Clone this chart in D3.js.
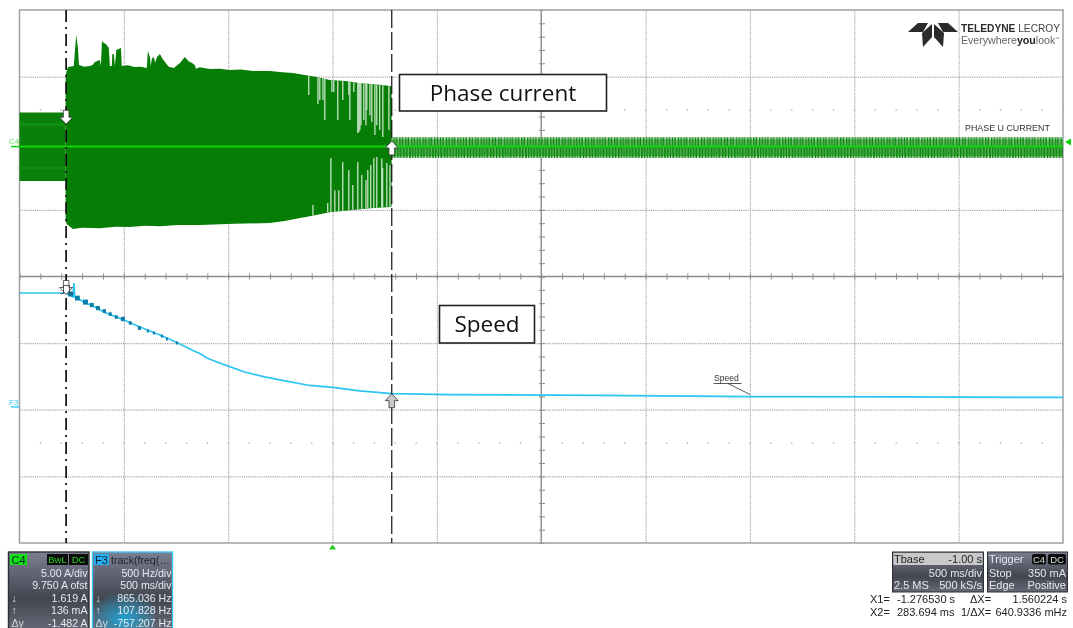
<!DOCTYPE html>
<html>
<head>
<meta charset="utf-8">
<script src="https://cdn.jsdelivr.net/npm/d3@7"></script>
<style>
  html, body { margin: 0; padding: 0; background: #fff; }
  svg { display: block; font-family: "Liberation Sans", Arial, sans-serif; filter: blur(0.3px); }
  .note { font-family: "Open Sans", sans-serif; fill: #111; }
  .grid path { display: none; }
  .grid line { stroke: #a8a8a8; stroke-width: 1.2; stroke-dasharray: 1.2 1; }
  .center path { display: none; }
  .center line { stroke: #8c8c8c; stroke-width: 1; }
</style>
</head>
<body>
<div id="chart"></div>
<script>
// DATA. time in s, current in A, speed in Hz
const timeGrid = [-1, -0.5, 0, 0.5, 1, 1.5, 2, 2.5, 3];
const ampGrid = [-5, 0, 5];
const cursorTimes = [-1.27653, 0.283694];

// current envelope before the first cursor, during the fault, after the second cursor
const idleTop = [[-1.5, 2.55], [-1.279, 2.55]];
const idleBottom = [[-1.5, -2.59], [-1.279, -2.59]];
const burstTop = [[-1.279, 5.4], [-1.268, 5.97], [-1.24, 6.04], [-1.234, 7.25], [-1.228, 8.37], [-1.22, 7.4], [-1.215, 6.12],
  [-1.19, 6.0], [-1.163, 6.04], [-1.15, 6.12], [-1.139, 6.34], [-1.115, 6.49], [-1.11, 6.04], [-1.105, 7.92], [-1.096, 7.77],
  [-1.086, 7.69], [-1.072, 7.39], [-1.067, 6.04], [-1.058, 6.04], [-1.055, 6.94], [-1.048, 6.94], [-1.043, 6.04],
  [-1.036, 7.24], [-1.014, 7.39], [-1.01, 6.04], [-0.98, 6.1], [-0.95, 5.97], [-0.92, 6.0], [-0.89, 5.89], [-0.885, 7.17],
  [-0.875, 6.72], [-0.871, 6.04], [-0.866, 6.6], [-0.856, 6.72], [-0.85, 6.3], [-0.842, 6.7], [-0.827, 6.94], [-0.815, 6.6],
  [-0.803, 6.34], [-0.785, 6.0], [-0.76, 5.89], [-0.745, 6.1], [-0.731, 6.27], [-0.708, 6.72], [-0.69, 6.4], [-0.675, 6.3],
  [-0.66, 6.12], [-0.655, 5.85], [-0.636, 5.95], [-0.588, 5.82], [-0.54, 5.85], [-0.492, 5.74], [-0.44, 5.78], [-0.38, 5.68],
  [-0.3, 5.67], [-0.24, 5.58], [-0.19, 5.52], [-0.133, 5.37], [-0.07, 5.2], [-0.013, 4.99], [0.06, 4.92], [0.13, 4.77],
  [0.2, 4.68], [0.279, 4.54], [0.283, 4.5]];
const burstBottom = [[-1.279, -5.6], [-1.273, -5.82], [-1.244, -6.19], [-1.2, -6.1], [-1.115, -6.12], [-1.04, -6.02], [-0.972, -6.04],
  [-0.9, -5.94], [-0.827, -5.97], [-0.74, -5.88], [-0.636, -5.89], [-0.47, -5.8], [-0.3, -5.74], [-0.229, -5.59], [-0.181, -5.44],
  [-0.109, -5.22], [-0.013, -4.92], [0.082, -4.77], [0.18, -4.62], [0.279, -4.54], [0.283, -4.5]];
const tailTop = [[0.283, 0.7], [3.5, 0.7]];
const tailBottom = [[0.283, -0.86], [3.5, -0.86]];

// places where the burst opens up: time, how far the gap reaches toward zero
const upperGaps = [[-0.114, 3.87], [-0.07, 3.19], [-0.061, 3.49], [-0.046, 3.49], [-0.037, 1.99], [-0.003, 4.09], [0.006, 4.09],
  [0.025, 1.99], [0.049, 3.49], [0.078, 3.87], [0.083, 1.99], [0.102, 4.09], [0.121, 1.01], [0.126, 1.1], [0.131, 1.24],
  [0.136, 1.61], [0.15, 1.99], [0.16, 1.61], [0.164, 2.74], [0.179, 2.36], [0.188, 1.84], [0.203, 0.86], [0.212, 1.61],
  [0.226, 1.24], [0.241, 0.71], [0.27, 1.24]];
const lowerGaps = [[-0.094, -4.39], [-0.023, -4.24], [-0.008, -0.86], [0.011, -3.27], [0.03, -3.27], [0.049, -1.16],
  [0.078, -1.76], [0.097, -2.89], [0.121, -1.16], [0.14, -2.14], [0.16, -2.51], [0.169, -1.76], [0.183, -1.39],
  [0.198, -0.86], [0.212, -0.79], [0.236, -0.9], [0.24, -1.61], [0.26, -1.24], [0.275, -1.4]];

const speedTrace = [[-1.5, 863], [-1.276, 863], [-1.268, 856], [-1.244, 835], [-1.239, 938], [-1.236, 835], [-1.196, 800],
  [-1.139, 758], [-1.091, 717], [-1.005, 664], [-0.923, 608], [-0.827, 548], [-0.741, 488], [-0.674, 435], [-0.636, 409],
  [-0.602, 375], [-0.554, 345], [-0.497, 312], [-0.421, 270], [-0.325, 233], [-0.229, 203], [-0.109, 169], [0.001, 154],
  [0.13, 128], [0.284, 108], [0.56, 101], [1.28, 94], [2.0, 86], [2.72, 83], [3.5, 79]];
// dark stair steps on the trace: start, end, speed
const speedSteps = [[-1.268, -1.244, 856], [-1.234, -1.211, 825], [-1.196, -1.172, 795], [-1.163, -1.144, 773],
  [-1.134, -1.115, 750], [-1.101, -1.086, 728], [-1.072, -1.058, 705], [-1.043, -1.029, 683], [-1.014, -0.995, 668],
  [-0.976, -0.962, 638], [-0.933, -0.918, 600], [-0.89, -0.88, 578], [-0.861, -0.851, 563], [-0.823, -0.813, 540],
  [-0.798, -0.789, 518], [-0.751, -0.741, 488]];

const c4Rows = ["5.00 A/div", "9.750 A ofst", "1.619 A", "136 mA", "-1.482 A"];
const f3Rows = ["500 Hz/div", "500 ms/div", "865.036 Hz", "107.828 Hz", "-757.207 Hz"];
const rowMarks = ["", "", "↓", "↑", "Δy"];

// SETUP
const width = 1073, height = 628;
const plot = { left: 19.5, right: 1063, top: 10, bottom: 543, mid: 276.5 };

const svg = d3.select("#chart").append("svg").attr("width", width).attr("height", height);
const defs = svg.append("defs");

const x = d3.scaleLinear().domain([-1.5, 3.5]).range([plot.left, plot.right]);
const yAmp = d3.scaleLinear().domain([-9.75, 10.25]).range([plot.mid, plot.top]);
const yHz = d3.scaleLinear().domain([-1013.5, 987]).range([plot.bottom, plot.mid]);

// GRID
svg.append("g").attr("class", "grid")
  .attr("transform", `translate(0,${plot.top})`)
  .call(d3.axisBottom(x).tickValues(timeGrid.filter(d => d !== 1)).tickSize(plot.bottom - plot.top).tickFormat(""));
svg.append("g").attr("class", "grid")
  .attr("transform", `translate(${plot.left},0)`)
  .call(d3.axisRight(yAmp).tickValues(ampGrid.map(d => d + 0.25)).tickSize(plot.right - plot.left).tickFormat(""));
svg.append("g").attr("class", "grid")
  .attr("transform", `translate(${plot.left},0)`)
  .call(d3.axisRight(yHz).tickValues([487, -13, -513]).tickSize(plot.right - plot.left).tickFormat(""));

// solid centre cross with its small ticks
const timeMinor = d3.range(-1.5, 3.5001, 0.1);
svg.append("g").attr("class", "center")
  .attr("transform", `translate(0,${plot.mid - 3})`)
  .call(d3.axisBottom(x).tickValues(timeMinor).tickSize(6).tickFormat(""));
svg.append("g").attr("class", "center")
  .attr("transform", `translate(542,0)`)
  .call(d3.axisLeft(yAmp).tickValues(d3.range(-9.75, 10.2501, 1)).tickSize(0).tickFormat(""))
  .call(g => g.selectAll("line").attr("x1", -3).attr("x2", 3));
svg.append("g").attr("class", "center")
  .attr("transform", `translate(542,0)`)
  .call(d3.axisLeft(yHz).tickValues(d3.range(-1013.5, 987, 100)).tickSize(0).tickFormat(""))
  .call(g => g.selectAll("line").attr("x1", -3).attr("x2", 3));
svg.append("line").attr("x1", plot.left).attr("x2", plot.right).attr("y1", plot.mid).attr("y2", plot.mid)
  .attr("stroke", "#8c8c8c").attr("stroke-width", 1.4);
svg.append("line").attr("x1", x(1)).attr("x2", x(1)).attr("y1", plot.top).attr("y2", plot.bottom)
  .attr("stroke", "#8c8c8c").attr("stroke-width", 1.4);

// rows of little dots in the upper half of the upper pane and lower half of the lower pane
[yAmp(2.75), yHz(-263)].forEach(yy => {
  svg.append("g").selectAll("rect").data(timeMinor).join("rect")
    .attr("x", d => x(d) - 0.5).attr("y", yy - 0.5).attr("width", 1.2).attr("height", 1.2).attr("fill", "#999");
});

svg.append("rect").attr("x", plot.left).attr("y", plot.top)
  .attr("width", plot.right - plot.left).attr("height", plot.bottom - plot.top)
  .attr("fill", "none").attr("stroke", "#a0a0a0").attr("stroke-width", 1.5);

// CURRENT TRACE
function band(top, bottom) {
  const pts = top.map(d => [x(d[0]), yAmp(d[1])]).concat(bottom.slice().reverse().map(d => [x(d[0]), yAmp(d[1])]));
  return d3.line()(pts) + "Z";
}
// texture for the small ripple after the second cursor
const tailY = yAmp(0.7), tailH = yAmp(-0.86) - yAmp(0.7);
function ripple(id, light, alpha, notchY) {
  const p = defs.append("pattern").attr("id", id).attr("patternUnits", "userSpaceOnUse")
    .attr("width", 23.2).attr("height", tailH).attr("patternTransform", `translate(${x(0.283)},${tailY})`);
  light.forEach(s => {
    p.append("rect").attr("x", s[0]).attr("width", s[1]).attr("height", tailH).attr("fill", "#d8eed8").attr("opacity", alpha);
    p.append("rect").attr("x", s[0]).attr("y", notchY).attr("width", s[1]).attr("height", 1.6).attr("fill", "#fff");
  });
}
ripple("tailUp", [[0.4, 1.2], [3.2, 1], [5.9, 1.5], [9.2, 1], [12, 1.4], [15, 0.9], [17.7, 1.5], [20.8, 1.1]], 0.62, 0);
ripple("tailDown", [[1.2, 1], [4.2, 1.2], [7.3, 0.9], [10.1, 1.2], [13.2, 1], [16.1, 1.2], [19.2, 0.9], [21.8, 1]], 0.5, tailH - 1.6);

svg.append("path").attr("d", band(idleTop, idleBottom)).attr("fill", "#0a7f0a");
svg.append("path").attr("d", band(burstTop, burstBottom)).attr("fill", "#067e06");
svg.append("path").attr("d", band(tailTop, tailBottom)).attr("fill", "#0a860a");
svg.append("path").attr("d", band(tailTop, [[0.283, 0], [3.5, 0]])).attr("fill", "url(#tailUp)");
svg.append("path").attr("d", band([[0.283, 0], [3.5, 0]], tailBottom)).attr("fill", "url(#tailDown)");

// slightly brighter streaks inside the idle band
[1.65, -1.6].forEach(a => {
  svg.append("line").attr("x1", x(-1.5)).attr("x2", x(-1.279)).attr("y1", yAmp(a)).attr("y2", yAmp(a))
    .attr("stroke", "#0f8f0f").attr("stroke-width", 3);
});

// gaps run from the drawn envelope edge to the value read for them
const edgeTop = d3.scaleLinear().domain(burstTop.map(d => d[0])).range(burstTop.map(d => d[1]));
const edgeBottom = d3.scaleLinear().domain(burstBottom.map(d => d[0])).range(burstBottom.map(d => d[1]));
svg.append("g").selectAll("line").data(upperGaps).join("line")
  .attr("x1", d => x(d[0])).attr("x2", d => x(d[0]))
  .attr("y1", d => yAmp(edgeTop(d[0]))).attr("y2", d => yAmp(d[1]))
  .attr("stroke", "#d6ebd6").attr("stroke-width", 1.2);
svg.append("g").selectAll("line").data(lowerGaps).join("line")
  .attr("x1", d => x(d[0])).attr("x2", d => x(d[0]))
  .attr("y1", d => yAmp(edgeBottom(d[0]))).attr("y2", d => yAmp(d[1]))
  .attr("stroke", "#d6ebd6").attr("stroke-width", 1.2);

svg.append("line").attr("x1", plot.left).attr("x2", plot.right).attr("y1", yAmp(0)).attr("y2", yAmp(0))
  .attr("stroke", "#0bd60b").attr("stroke-width", 2);

// SPEED TRACE
svg.append("path").datum(speedTrace)
  .attr("d", d3.line().x(d => x(d[0])).y(d => yHz(d[1])))
  .attr("fill", "none").attr("stroke", "#2cc5f2").attr("stroke-width", 1.7);
const stepWidth = d3.scaleLinear().domain([0.01, 0.024]).range([3, 5]);
svg.append("g").selectAll("line").data(speedSteps).join("line")
  .attr("x1", d => x(d[0])).attr("x2", d => x(d[1]))
  .attr("y1", d => yHz(d[2])).attr("y2", d => yHz(d[2]))
  .attr("stroke", "#0a7ea6").attr("stroke-width", d => stepWidth(d[1] - d[0]));

// CURSORS
svg.append("line").attr("x1", x(cursorTimes[0])).attr("x2", x(cursorTimes[0])).attr("y1", plot.top).attr("y2", plot.bottom)
  .attr("stroke", "#111").attr("stroke-width", 1.7).attr("stroke-dasharray", "12 5 2 5");
svg.append("line").attr("x1", x(cursorTimes[1])).attr("x2", x(cursorTimes[1])).attr("y1", plot.top).attr("y2", plot.bottom)
  .attr("stroke", "#111").attr("stroke-width", 1.2).attr("stroke-dasharray", "18 4");

function arrow(cx, cy, dir, fill, stroke) {
  // dir 1 = pointing down
  const pts = [[-2.8, -7 * dir], [2.8, -7 * dir], [2.8, 0], [6.5, 0], [0, 7 * dir], [-6.5, 0], [-2.8, 0]];
  svg.append("path").attr("d", d3.line()(pts.map(p => [cx + p[0], cy + p[1]])) + "Z")
    .attr("fill", fill).attr("stroke", stroke).attr("stroke-width", 0.8);
}
arrow(x(cursorTimes[0]), yAmp(2.2), 1, "#fff", "#333");
arrow(x(cursorTimes[1]), yAmp(-0.1), -1, "#fff", "#333");
arrow(x(cursorTimes[0]), yHz(905), 1, "#fff", "#333");
arrow(x(cursorTimes[1]), yHz(55), -1, "#c8c8c8", "#333");

// trigger pulse symbol under the first cursor
svg.append("path").attr("d", "M60.5 293.5h3v-8h6v8h4").attr("fill", "none").attr("stroke", "#444").attr("stroke-width", 0.9);

// CHANNEL MARKERS
svg.append("text").attr("x", 9).attr("y", 144).attr("font-size", 8).attr("fill", "#5be05b").text("C4");
svg.append("line").attr("x1", 11).attr("x2", plot.left).attr("y1", yAmp(0)).attr("y2", yAmp(0)).attr("stroke", "#0bd60b").attr("stroke-width", 1.5);
svg.append("text").attr("x", 9).attr("y", 405).attr("font-size", 8).attr("fill", "#3cc8f5").text("F3");
svg.append("line").attr("x1", 11).attr("x2", plot.left).attr("y1", yHz(8)).attr("y2", yHz(8)).attr("stroke", "#3cc8f5").attr("stroke-width", 1.5);
svg.append("path").attr("d", "M1065 142l6 -3.5v7z").attr("fill", "#0bd60b");
svg.append("path").attr("d", `M${x(0) - 3.5} 549.5l3.5 -5l3.5 5z`).attr("fill", "#22cc22");

// LABELS
svg.append("text").attr("x", 965).attr("y", 131).attr("font-size", 8.9).attr("fill", "#333").text("PHASE U CURRENT");
svg.append("text").attr("x", 714).attr("y", 381).attr("font-size", 8.6).attr("fill", "#333").text("Speed");
svg.append("path").attr("d", "M713.5 383.5h28M728 383.5l22 11").attr("fill", "none").attr("stroke", "#444").attr("stroke-width", 0.9);

svg.append("rect").attr("x", 399.5).attr("y", 74.5).attr("width", 207).attr("height", 36.5)
  .attr("fill", "#fff").attr("stroke", "#222").attr("stroke-width", 1.6);
svg.append("text").attr("class", "note").attr("x", 503).attr("y", 101).attr("text-anchor", "middle").attr("font-size", 22.5).text("Phase current");
svg.append("rect").attr("x", 439.5).attr("y", 305.5).attr("width", 95).attr("height", 37.5)
  .attr("fill", "#fff").attr("stroke", "#222").attr("stroke-width", 1.6);
svg.append("text").attr("class", "note").attr("x", 487).attr("y", 332).attr("text-anchor", "middle").attr("font-size", 22.5).text("Speed");

// LOGO
const logo = svg.append("g").attr("fill", "#2b2b2b");
logo.append("path").attr("d", "M908 32l10 -9h10l-5 9z");
logo.append("path").attr("d", "M958 32l-10 -9h-10l5 9z");
logo.append("path").attr("d", "M923 47l-1 -14l10 -9v13z");
logo.append("path").attr("d", "M943 47l1 -14l-10 -9v13z");
const lt = svg.append("text").attr("x", 961).attr("y", 32).attr("font-size", 10.2).attr("fill", "#2b2b2b");
lt.append("tspan").attr("font-weight", "bold").text("TELEDYNE");
lt.append("tspan").attr("fill", "#444").text(" LECROY");
const lt2 = svg.append("text").attr("x", 961).attr("y", 43.5).attr("font-size", 10.6).attr("fill", "#666");
lt2.append("tspan").text("Everywhere");
lt2.append("tspan").attr("font-weight", "bold").attr("fill", "#222").text("you");
lt2.append("tspan").text("look");
lt2.append("tspan").attr("font-size", 4).attr("dy", -4).text("™");

// READOUT BOXES
const grad = defs.append("linearGradient").attr("id", "panel").attr("x1", 0).attr("x2", 0).attr("y1", 0).attr("y2", 1);
grad.append("stop").attr("offset", 0).attr("stop-color", "#7c7f8f");
grad.append("stop").attr("offset", 0.35).attr("stop-color", "#5a5d6c");
grad.append("stop").attr("offset", 0.6).attr("stop-color", "#43464f");
grad.append("stop").attr("offset", 1).attr("stop-color", "#666976");
const glow = defs.append("radialGradient").attr("id", "glow").attr("cx", 0.5).attr("cy", 0.75).attr("r", 0.6);
glow.append("stop").attr("offset", 0).attr("stop-color", "#1aa8dc").attr("stop-opacity", 0.9);
glow.append("stop").attr("offset", 1).attr("stop-color", "#1aa8dc").attr("stop-opacity", 0);

function chanBox(x0, w, tag, tagColor, border, rows) {
  const g = svg.append("g");
  g.append("rect").attr("x", x0).attr("y", 552).attr("width", w).attr("height", 78)
    .attr("fill", "url(#panel)").attr("stroke", border).attr("stroke-width", 1.4);
  g.append("rect").attr("x", x0 + 1.5).attr("y", 554).attr("width", 17).attr("height", 11).attr("fill", tagColor);
  g.append("text").attr("x", x0 + 10).attr("y", 563.5).attr("text-anchor", "middle").attr("font-size", 11).attr("fill", "#123").text(tag);
  rows.forEach((r, i) => {
    g.append("text").attr("x", x0 + w - 1.5).attr("y", 577 + i * 12.4).attr("text-anchor", "end")
      .attr("font-size", 10.6).attr("fill", "#e6e8ee").text(r);
    g.append("text").attr("x", x0 + 3).attr("y", 577 + i * 12.4)
      .attr("font-size", 10.6).attr("fill", "#d8dae2").text(rowMarks[i]);
  });
  return g;
}
const c4 = chanBox(8.5, 80.5, "C4", "#10e010", "#2e3038", c4Rows);
const tagBox = (g, x0, w, y0, txt) => {
  g.append("rect").attr("x", x0).attr("y", y0).attr("width", w).attr("height", 11).attr("fill", "#0c0c0c");
  g.append("text").attr("x", x0 + w / 2).attr("y", y0 + 9).attr("text-anchor", "middle").attr("font-size", 9.5)
    .attr("fill", "#1fd01f").text(txt);
};
tagBox(c4, 47, 21, 554, "BwL");
tagBox(c4, 69, 19, 554, "DC");

svg.append("rect").attr("x", 92.5).attr("y", 552).attr("width", 80).attr("height", 78).attr("fill", "url(#panel)");
svg.append("rect").attr("x", 92.5).attr("y", 585).attr("width", 62).attr("height", 45).attr("fill", "url(#glow)");
const f3 = svg.append("g");
f3.append("rect").attr("x", 92.5).attr("y", 552).attr("width", 80).attr("height", 78).attr("fill", "none").attr("stroke", "#3cc8f5").attr("stroke-width", 1.4);
f3.append("rect").attr("x", 94).attr("y", 554).attr("width", 15).attr("height", 11).attr("fill", "#28aef0");
f3.append("text").attr("x", 101.5).attr("y", 563.5).attr("text-anchor", "middle").attr("font-size", 11).attr("fill", "#123").text("F3");
f3.append("text").attr("x", 111).attr("y", 563.5).attr("font-size", 10.6).attr("fill", "#1d2230").text("track(freq(…");
f3Rows.forEach((r, i) => {
  f3.append("text").attr("x", 171.5).attr("y", 577 + i * 12.4).attr("text-anchor", "end")
    .attr("font-size", 10.6).attr("fill", "#e6e8ee").text(r);
  f3.append("text").attr("x", 95.5).attr("y", 577 + i * 12.4).attr("font-size", 10.6).attr("fill", "#d8dae2").text(rowMarks[i]);
});

// timebase and trigger boxes
svg.append("rect").attr("x", 892.5).attr("y", 552).attr("width", 91).attr("height", 40).attr("fill", "url(#panel)").attr("stroke", "#2e3038");
svg.append("rect").attr("x", 893.5).attr("y", 553).attr("width", 89).attr("height", 12).attr("fill", "#c9c9c9");
svg.append("rect").attr("x", 987.5).attr("y", 552).attr("width", 80).attr("height", 40).attr("fill", "url(#panel)").attr("stroke", "#2e3038");

const tr = (xx, yy, txt, anchor, fill) => svg.append("text").attr("x", xx).attr("y", yy)
  .attr("text-anchor", anchor || "start").attr("font-size", 11).attr("fill", fill || "#e6e8ee").text(txt);
tr(894, 563, "Tbase", "start", "#222");
tr(982, 563, "-1.00 s", "end", "#222");
tr(982, 577, "500 ms/div", "end");
tr(894, 589, "2.5 MS");
tr(982, 589, "500 kS/s", "end");
tr(989, 563, "Trigger");
tr(989, 577, "Stop");
tr(1066, 577, "350 mA", "end");
tr(989, 589, "Edge");
tr(1066, 589, "Positive", "end");
[[1032, 14, "C4"], [1048, 18, "DC"]].forEach(d => {
  svg.append("rect").attr("x", d[0]).attr("y", 554).attr("width", d[1]).attr("height", 10.5).attr("rx", 2).attr("fill", "#0c0c0c");
  svg.append("text").attr("x", d[0] + d[1] / 2).attr("y", 562.8).attr("text-anchor", "middle").attr("font-size", 9.5).attr("fill", "#ddd").text(d[2]);
});

// cursor readout below
const dark = "#222";
tr(870, 603, "X1=", "start", dark);
tr(897, 603, "-1.276530 s", "start", dark);
tr(970, 603, "ΔX=", "start", dark);
tr(1067, 603, "1.560224 s", "end", dark);
tr(870, 616, "X2=", "start", dark);
tr(897, 616, "283.694 ms", "start", dark);
tr(961, 616, "1/ΔX=", "start", dark);
tr(1067, 616, "640.9336 mHz", "end", dark);
</script>
</body>
</html>
